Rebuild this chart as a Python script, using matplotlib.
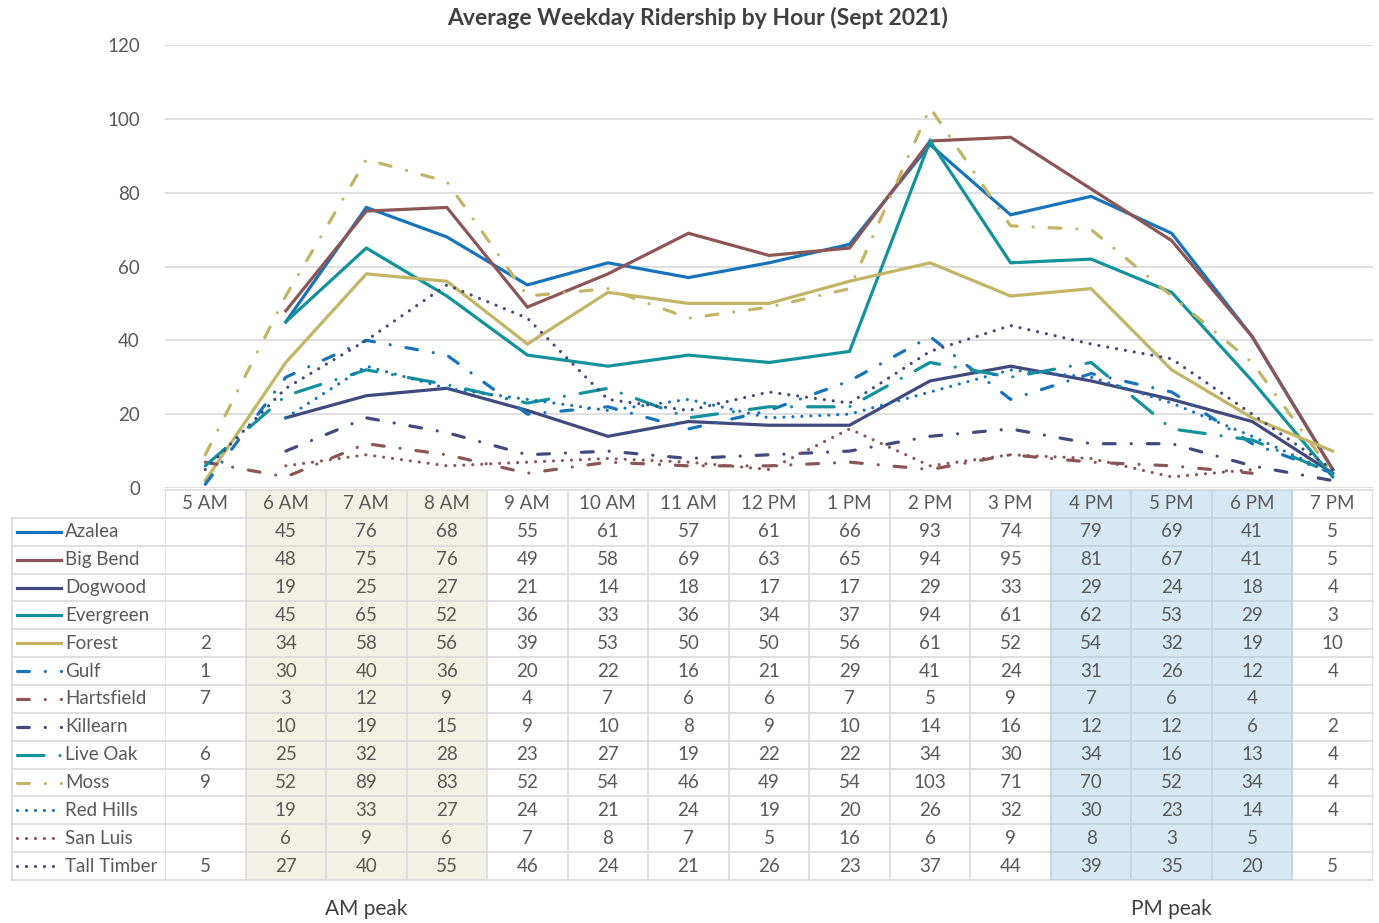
import numpy as np
import matplotlib
matplotlib.use("Agg")
import matplotlib.pyplot as plt
from matplotlib.patches import Rectangle
from matplotlib.lines import Line2D

plt.rcParams['font.family'] = ['Lato', 'DejaVu Sans']

nan = np.nan
hours = ["5 AM", "6 AM", "7 AM", "8 AM", "9 AM", "10 AM", "11 AM", "12 PM",
         "1 PM", "2 PM", "3 PM", "4 PM", "5 PM", "6 PM", "7 PM"]

azalea      = [nan, 45, 76, 68, 55, 61, 57, 61, 66, 93, 74, 79, 69, 41, 5]
big_bend    = [nan, 48, 75, 76, 49, 58, 69, 63, 65, 94, 95, 81, 67, 41, 5]
dogwood     = [nan, 19, 25, 27, 21, 14, 18, 17, 17, 29, 33, 29, 24, 18, 4]
evergreen   = [nan, 45, 65, 52, 36, 33, 36, 34, 37, 94, 61, 62, 53, 29, 3]
forest      = [2, 34, 58, 56, 39, 53, 50, 50, 56, 61, 52, 54, 32, 19, 10]
gulf        = [1, 30, 40, 36, 20, 22, 16, 21, 29, 41, 24, 31, 26, 12, 4]
hartsfield  = [7, 3, 12, 9, 4, 7, 6, 6, 7, 5, 9, 7, 6, 4, nan]
killearn    = [nan, 10, 19, 15, 9, 10, 8, 9, 10, 14, 16, 12, 12, 6, 2]
live_oak    = [6, 25, 32, 28, 23, 27, 19, 22, 22, 34, 30, 34, 16, 13, 4]
moss        = [9, 52, 89, 83, 52, 54, 46, 49, 54, 103, 71, 70, 52, 34, 4]
red_hills   = [nan, 19, 33, 27, 24, 21, 24, 19, 20, 26, 32, 30, 23, 14, 4]
san_luis    = [nan, 6, 9, 6, 7, 8, 7, 5, 16, 6, 9, 8, 3, 5, nan]
tall_timber = [5, 27, 40, 55, 46, 24, 21, 26, 23, 37, 44, 39, 35, 20, 5]

route_names = ["Azalea", "Big Bend", "Dogwood", "Evergreen", "Forest", "Gulf",
               "Hartsfield", "Killearn", "Live Oak", "Moss", "Red Hills",
               "San Luis", "Tall Timber"]
route_values = [azalea, big_bend, dogwood, evergreen, forest, gulf, hartsfield,
                killearn, live_oak, moss, red_hills, san_luis, tall_timber]

BLUE, BROWN, NAVY, TEAL, KHAKI = "#1874BA", "#8C5656", "#424A7D", "#14929C", "#C3B566"
solid = "-"
dash_dot = (0, (3.7, 5.0, 0.01, 5.0))
long_dash_dot = (0, (8.3, 5.0, 0.01, 5.0))
dotted = (0, (0.01, 2.8))
styles = [
    (BLUE, solid), (BROWN, solid), (NAVY, solid), (TEAL, solid), (KHAKI, solid),
    (BLUE, dash_dot), (BROWN, dash_dot), (NAVY, dash_dot), (TEAL, long_dash_dot),
    (KHAKI, dash_dot), (BLUE, dotted), (BROWN, dotted), (NAVY, dotted),
]

TEXT = "#595959"
GRID = "#D9D9D9"
FS = 13.5

W, H = 1379, 923
fig = plt.figure(figsize=(W / 100, H / 100), dpi=100)

x0, x1 = 165, 1373
ax = fig.add_axes([x0 / W, (H - 488) / H, (x1 - x0) / W, (488 - 45) / H])
ax.set_xlim(-0.5, 14.5)
ax.set_ylim(0, 120)
ax.set_yticks(range(0, 121, 20))
ax.tick_params(axis="y", length=0, pad=18, labelsize=FS, labelcolor=TEXT)
ax.set_xticks([])
for s in ax.spines.values():
    s.set_visible(False)
ax.grid(axis="y", color=GRID, linewidth=1.2)
ax.set_axisbelow(True)

xs = np.arange(len(hours))
for vals, (col, ls) in zip(route_values, styles):
    capstyle = "butt" if ls == solid else "round"
    ax.plot(xs, np.array(vals, dtype=float), color=col, linestyle=ls,
            linewidth=2.3, dash_capstyle=capstyle, solid_joinstyle="miter",
            clip_on=False)

fig.text(698 / W, 1 - 18 / H, "Average Weekday Ridership by Hour (Sept 2021)",
         ha="center", va="center", fontsize=16.5, fontweight="bold", color="#404040")

# data table beneath the chart
tb = fig.add_axes([x0 / W, (H - 880) / H, (x1 - x0) / W, (880 - 490) / H])
tb.set_xlim(-0.5, 14.5)
tb.set_ylim(14, 0)
tb.axis("off")

left = -0.5 - (165 - 12) / ((x1 - x0) / 15)
AM_FILL, PM_FILL = "#F3F1E6", "#D6E8F3"
tb.add_patch(Rectangle((0.5, 0), 3, 14, facecolor=AM_FILL, edgecolor="none", zorder=0))
tb.add_patch(Rectangle((10.5, 0), 3, 14, facecolor=PM_FILL, edgecolor="none", zorder=0))

# cell borders
for r in range(15):
    xa = -0.5 if r == 0 else left
    tb.add_line(Line2D([xa, 14.5], [r, r], color=GRID, linewidth=1.2, zorder=1, clip_on=False))
for c in range(16):
    tb.add_line(Line2D([c - 0.5, c - 0.5], [0, 14], color=GRID, linewidth=1.2, zorder=1))
tb.add_line(Line2D([left, left], [1, 14], color=GRID, linewidth=1.2, zorder=1, clip_on=False))
for c in (11, 12, 13, 14):
    tb.add_line(Line2D([c - 0.5, c - 0.5], [0, 14], color="#BFD4E2", linewidth=1.2, zorder=1))
for r in range(15):
    tb.add_line(Line2D([10.5, 13.5], [r, r], color="#BFD4E2", linewidth=1.2, zorder=1))

for j, h in enumerate(hours):
    tb.text(j, 0.5, h, ha="center", va="center", fontsize=FS, color=TEXT)

px = (x1 - x0) / 15
sx0 = -0.5 + (17 - 165) / px
sx1 = -0.5 + (61 - 165) / px
tx = -0.5 + (65 - 165) / px
for i, (name, vals, (col, ls)) in enumerate(zip(route_names, route_values, styles)):
    y = i + 1.5
    capstyle = "butt" if ls == solid else "round"
    tb.add_line(Line2D([sx0, sx1], [y, y], color=col, linestyle=ls, linewidth=2.3,
                       dash_capstyle=capstyle, clip_on=False, zorder=2))
    tb.text(tx, y, name, ha="left", va="center", fontsize=FS, color=TEXT, clip_on=False)
    for j, v in enumerate(vals):
        if not np.isnan(v):
            tb.text(j, y, f"{int(v)}", ha="center", va="center", fontsize=FS, color=TEXT)

tb.text(2, 15.05, "AM peak", ha="center", va="center", fontsize=15, color="#404040", clip_on=False)
tb.text(12, 15.05, "PM peak", ha="center", va="center", fontsize=15, color="#404040", clip_on=False)

fig.savefig("out.png", dpi=100, facecolor="white")
